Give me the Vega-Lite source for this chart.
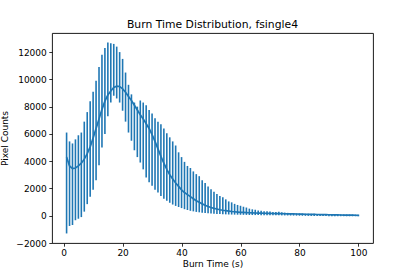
{
  "$schema": "https://vega.github.io/schema/vega-lite/v6.json",
  "width": 321,
  "height": 210,
  "autosize": "none",
  "padding": {"left": 52, "top": 33, "right": 42, "bottom": 34},
  "background": "white",
  "config": {
    "font": "DejaVu Sans",
    "view": {"stroke": "black", "strokeWidth": 0.9},
    "axis": {
      "grid": false,
      "domain": false,
      "tickColor": "black",
      "tickSize": 3.2,
      "tickWidth": 0.8,
      "labelColor": "black",
      "labelFontSize": 9,
      "labelPadding": 2.5,
      "labelOverlap": false,
      "titleColor": "black",
      "titleFontSize": 9,
      "titleFontWeight": "normal"
    },
    "axisQuantitative": {"labelOverlap": false},
    "axisY": {"labelOverlap": false}
  },
  "title": {"text": "Burn Time Distribution, fsingle4", "fontSize": 10.8, "fontWeight": "normal", "color": "black", "offset": 3},
  "data": {"values": [
    {"t":1,"m":4300,"lo":-1300,"hi":6100},
    {"t":2,"m":3650,"lo":-750,"hi":5450},
    {"t":3,"m":3450,"lo":-680,"hi":5300},
    {"t":4,"m":3500,"lo":-330,"hi":5600},
    {"t":5,"m":3650,"lo":-220,"hi":5900},
    {"t":6,"m":3850,"lo":-100,"hi":6100},
    {"t":7,"m":4150,"lo":300,"hi":6900},
    {"t":8,"m":4550,"lo":850,"hi":7600},
    {"t":9,"m":5050,"lo":1400,"hi":8400},
    {"t":10,"m":5700,"lo":1900,"hi":9100},
    {"t":11,"m":6400,"lo":2600,"hi":9900},
    {"t":12,"m":7100,"lo":3700,"hi":10900},
    {"t":13,"m":7800,"lo":5000,"hi":11800},
    {"t":14,"m":8400,"lo":6000,"hi":12300},
    {"t":15,"m":8850,"lo":7300,"hi":12700},
    {"t":16,"m":9150,"lo":8300,"hi":12650},
    {"t":17,"m":9400,"lo":8800,"hi":12600},
    {"t":18,"m":9500,"lo":8600,"hi":12400},
    {"t":19,"m":9480,"lo":8300,"hi":12000},
    {"t":20,"m":9300,"lo":7700,"hi":11500},
    {"t":21,"m":9050,"lo":6900,"hi":10500},
    {"t":22,"m":8750,"lo":6100,"hi":9600},
    {"t":23,"m":8450,"lo":5500,"hi":8900},
    {"t":24,"m":8100,"lo":4800,"hi":8300},
    {"t":25,"m":7750,"lo":4300,"hi":8000},
    {"t":26,"m":7400,"lo":3900,"hi":8450},
    {"t":27,"m":7100,"lo":3400,"hi":8300},
    {"t":28,"m":6750,"lo":2800,"hi":8100},
    {"t":29,"m":6400,"lo":2450,"hi":7750},
    {"t":30,"m":5950,"lo":2200,"hi":7500},
    {"t":31,"m":5450,"lo":1900,"hi":7150},
    {"t":32,"m":4900,"lo":1700,"hi":6900},
    {"t":33,"m":4350,"lo":1450,"hi":6700},
    {"t":34,"m":3850,"lo":1250,"hi":6400},
    {"t":35,"m":3400,"lo":1100,"hi":6050},
    {"t":36,"m":3000,"lo":950,"hi":5750},
    {"t":37,"m":2700,"lo":820,"hi":5450},
    {"t":38,"m":2400,"lo":720,"hi":5150},
    {"t":39,"m":2150,"lo":640,"hi":4650},
    {"t":40,"m":1900,"lo":560,"hi":4300},
    {"t":41,"m":1700,"lo":480,"hi":3950},
    {"t":42,"m":1550,"lo":420,"hi":3650},
    {"t":43,"m":1400,"lo":360,"hi":3500},
    {"t":44,"m":1250,"lo":320,"hi":3250},
    {"t":45,"m":1100,"lo":280,"hi":3050},
    {"t":46,"m":980,"lo":250,"hi":2900},
    {"t":47,"m":870,"lo":220,"hi":2600},
    {"t":48,"m":770,"lo":200,"hi":2400},
    {"t":49,"m":680,"lo":180,"hi":2150},
    {"t":50,"m":600,"lo":160,"hi":1950},
    {"t":51,"m":540,"lo":140,"hi":1750},
    {"t":52,"m":490,"lo":130,"hi":1600},
    {"t":53,"m":440,"lo":120,"hi":1450},
    {"t":54,"m":400,"lo":110,"hi":1350},
    {"t":55,"m":370,"lo":100,"hi":1200},
    {"t":56,"m":340,"lo":90,"hi":1050},
    {"t":57,"m":310,"lo":85,"hi":980},
    {"t":58,"m":290,"lo":80,"hi":870},
    {"t":59,"m":270,"lo":75,"hi":790},
    {"t":60,"m":250,"lo":70,"hi":730},
    {"t":61,"m":240,"lo":65,"hi":660},
    {"t":62,"m":230,"lo":60,"hi":600},
    {"t":63,"m":220,"lo":55,"hi":520},
    {"t":64,"m":210,"lo":50,"hi":470},
    {"t":65,"m":200,"lo":48,"hi":440},
    {"t":66,"m":195,"lo":45,"hi":390},
    {"t":67,"m":190,"lo":42,"hi":370},
    {"t":68,"m":180,"lo":40,"hi":330},
    {"t":69,"m":175,"lo":38,"hi":320},
    {"t":70,"m":170,"lo":35,"hi":310},
    {"t":71,"m":165,"lo":32,"hi":280},
    {"t":72,"m":160,"lo":30,"hi":275},
    {"t":73,"m":155,"lo":28,"hi":300},
    {"t":74,"m":150,"lo":25,"hi":250},
    {"t":75,"m":145,"lo":22,"hi":230},
    {"t":76,"m":140,"lo":20,"hi":210},
    {"t":77,"m":135,"lo":15,"hi":190},
    {"t":78,"m":130,"lo":10,"hi":180},
    {"t":79,"m":125,"lo":5,"hi":175},
    {"t":80,"m":120,"lo":0,"hi":170},
    {"t":81,"m":115,"lo":-5,"hi":160},
    {"t":82,"m":110,"lo":-10,"hi":150},
    {"t":83,"m":105,"lo":-10,"hi":150},
    {"t":84,"m":100,"lo":-15,"hi":140},
    {"t":85,"m":95,"lo":-15,"hi":140},
    {"t":86,"m":90,"lo":-20,"hi":130},
    {"t":87,"m":85,"lo":-20,"hi":125},
    {"t":88,"m":80,"lo":-25,"hi":120},
    {"t":89,"m":75,"lo":-25,"hi":115},
    {"t":90,"m":70,"lo":-30,"hi":110},
    {"t":91,"m":65,"lo":-30,"hi":105},
    {"t":92,"m":62,"lo":-30,"hi":105},
    {"t":93,"m":58,"lo":-35,"hi":100},
    {"t":94,"m":55,"lo":-35,"hi":100},
    {"t":95,"m":50,"lo":-35,"hi":95},
    {"t":96,"m":45,"lo":-40,"hi":95},
    {"t":97,"m":42,"lo":-40,"hi":90},
    {"t":98,"m":38,"lo":-40,"hi":90},
    {"t":99,"m":35,"lo":-40,"hi":85},
    {"t":100,"m":30,"lo":-40,"hi":85}
  ]},
  "layer": [
    {
      "mark": {"type": "rule", "color": "#1f77b4", "strokeWidth": 1.6},
      "encoding": {
        "x": {"field": "t", "type": "quantitative", "scale": {"domain": [-3.95, 104.95], "nice": false, "zero": false},
              "axis": {"values": [0, 20, 40, 60, 80, 100], "title": "Burn Time (s)", "titlePadding": 2}},
        "y": {"field": "lo", "type": "quantitative", "scale": {"domain": [-2000, 13400], "nice": false, "zero": false},
              "axis": {"values": [-2000, 0, 2000, 4000, 6000, 8000, 10000, 12000], "format": "d", "labelOverlap": false, "title": "Pixel Counts", "titlePadding": 6}},
        "y2": {"field": "hi"}
      }
    },
    {
      "mark": {"type": "line", "color": "#1f77b4", "strokeWidth": 1.7},
      "encoding": {
        "x": {"field": "t", "type": "quantitative",
              "axis": {"values": [0, 20, 40, 60, 80, 100], "title": "Burn Time (s)", "titlePadding": 2}},
        "y": {"field": "m", "type": "quantitative",
              "axis": {"values": [-2000, 0, 2000, 4000, 6000, 8000, 10000, 12000], "format": "d", "labelOverlap": false, "title": "Pixel Counts", "titlePadding": 6}}
      }
    }
  ]
}
